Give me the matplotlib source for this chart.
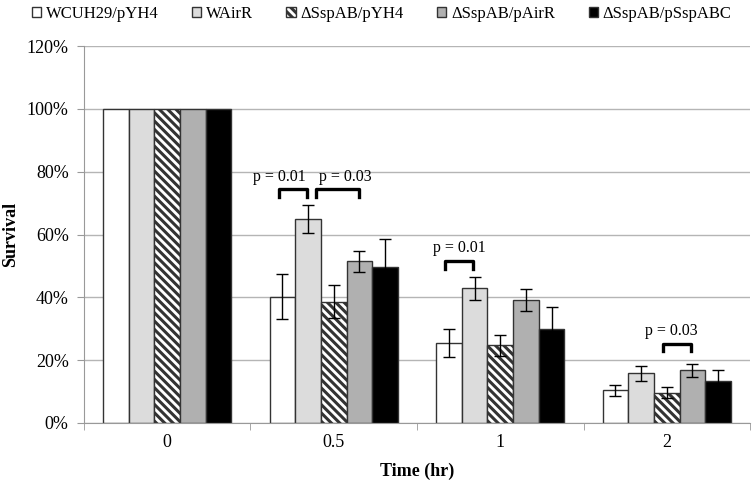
import numpy as np
import matplotlib
matplotlib.use("Agg")
import matplotlib.pyplot as plt
from matplotlib.patches import Patch

plt.rcParams['font.family'] = ['Liberation Serif', 'DejaVu Serif']
plt.rcParams['hatch.linewidth'] = 2.2

# data
times = ["0", "0.5", "1", "2"]
strains = ["WCUH29/pYH4", "WAirR", "\u0394SspAB/pYH4", "\u0394SspAB/pAirR", "\u0394SspAB/pSspABC"]
survival = [
    [100, 40.2, 25.4, 10.4],   # WCUH29/pYH4
    [100, 65.0, 42.9, 15.9],   # WAirR
    [100, 38.6, 24.7, 9.6],    # dSspAB/pYH4
    [100, 51.5, 39.0, 16.8],   # dSspAB/pAirR
    [100, 49.7, 30.0, 13.4],   # dSspAB/pSspABC
]
errors = [
    [0, 7.2, 4.4, 1.7],
    [0, 4.4, 3.7, 2.4],
    [0, 5.2, 3.3, 1.8],
    [0, 3.3, 3.5, 2.0],
    [0, 8.9, 6.8, 3.5],
]
# (time index, first bar, second bar, bracket height %, label)
pvals = [
    (1, 0, 1, 74.4, "p = 0.01"),
    (1, 1, 3, 74.4, "p = 0.03"),
    (2, 0, 1, 51.6, "p = 0.01"),
    (3, 2, 3, 25.3, "p = 0.03"),
]
# horizontal nudge of each p label, in data units
label_dx = [-0.08, 0.045, 0.0, -0.035]

colors = ["white", "#dcdcdc", "white", "#b0b0b0", "black"]
hatches = [None, None, "\\\\\\\\", None, None]

fig = plt.figure(figsize=(7.54, 4.88), dpi=100)
ax = fig.add_axes([0.1114, 0.1332, 0.8833, 0.7725])

x = np.arange(len(times))
w = 0.154
for i in range(len(strains)):
    pos = x + (i - 2) * w
    ax.bar(pos, survival[i], w, color=colors[i], edgecolor="#333333",
           linewidth=1, hatch=hatches[i], zorder=2)
    e = np.array(errors[i])
    m = e > 0
    ax.errorbar(pos[m], np.array(survival[i])[m], yerr=e[m], fmt="none",
                ecolor="black", elinewidth=1, capsize=4, capthick=1, zorder=3)

hook = 2.5
for (t, a, b, y, lab), dx in zip(pvals, label_dx):
    xa = x[t] + (a - 2) * w - 0.15 * w
    xb = x[t] + (b - 2) * w - 0.05 * w
    if a == 1 and b == 3:
        xa = x[t] + (a - 2) * w + 0.3 * w
        xb = x[t] + (b - 2) * w
    ax.plot([xa, xa, xb, xb], [y - hook, y, y, y - hook], color="black",
            linewidth=2.4, solid_joinstyle="round", zorder=4)
    ax.text((xa + xb) / 2 + dx, y + 1.4, lab, ha="center", va="bottom", fontsize=11.5)

ax.set_xlim(-0.5, len(times) - 0.5)
ax.set_ylim(0, 120)
ax.set_yticks(np.arange(0, 121, 20))
ax.set_yticklabels([f"{v}%" for v in range(0, 121, 20)], fontsize=13)
ax.set_xticks(x)
ax.set_xticklabels(times, fontsize=13)
ax.set_xticks(np.arange(-0.5, len(times), 1), minor=True)
ax.tick_params(axis="x", which="major", length=0, pad=8)
ax.tick_params(axis="x", which="minor", length=5, color="#999999")
ax.tick_params(axis="y", length=5, color="#999999", pad=6)
ax.grid(axis="y", color="#b5b5b5", linewidth=1, zorder=0)
ax.set_axisbelow(True)
for s in ["top", "right"]:
    ax.spines[s].set_visible(False)
for s in ["left", "bottom"]:
    ax.spines[s].set_color("#999999")

ax.set_xlabel("Time (hr)", fontsize=13, fontweight="bold", labelpad=8)
ax.set_ylabel("Survival", fontsize=13, fontweight="bold")
ax.yaxis.set_label_coords(-0.098, 0.5)

handles = [Patch(facecolor=colors[i], edgecolor="#333333", hatch=hatches[i], linewidth=1)
           for i in range(len(strains))]
fig.legend(handles, strains, loc="center left", bbox_to_anchor=(0.042, 0.972),
           ncol=5, frameon=False, fontsize=12, handlelength=0.55, handleheight=0.55,
           handletextpad=0.3, columnspacing=2.0, borderaxespad=0, borderpad=0)

fig.savefig("out.png", dpi=100)
